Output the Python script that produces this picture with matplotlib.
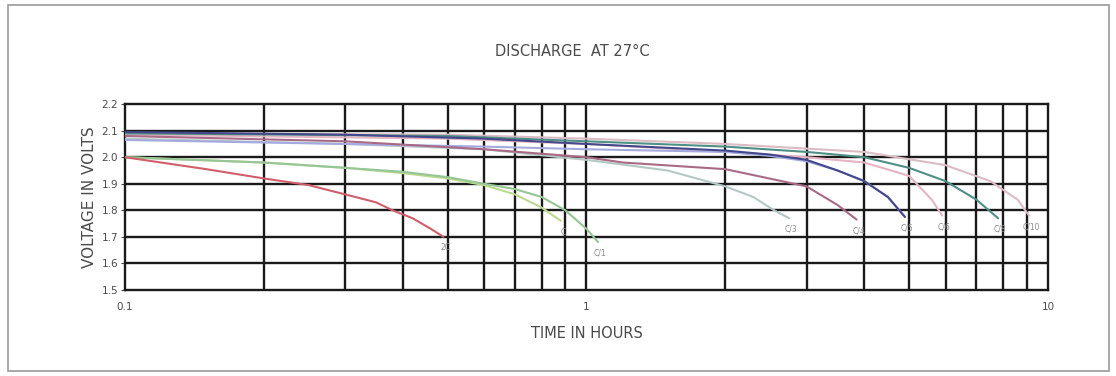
import matplotlib
matplotlib.use('Agg')
import matplotlib.pyplot as plt
from matplotlib.patches import Rectangle
from matplotlib.ticker import FixedLocator, NullLocator

# ─── Data (time in hours, voltage per cell) ──────────────────────────────────
T_RED = [0.1, 0.15, 0.2, 0.25, 0.3, 0.35, 0.38, 0.42, 0.46, 0.49]
V_RED = [2.0, 1.955, 1.92, 1.895, 1.86, 1.83, 1.80, 1.77, 1.73, 1.70]

T_YGRN = [0.1, 0.2, 0.3, 0.4, 0.5, 0.6, 0.7, 0.8, 0.88]
V_YGRN = [2.0, 1.98, 1.96, 1.94, 1.92, 1.895, 1.86, 1.81, 1.76]

T_GRN = [0.1, 0.2, 0.3, 0.4, 0.5, 0.6, 0.7, 0.8, 0.9, 1.0, 1.06]
V_GRN = [2.0, 1.98, 1.96, 1.945, 1.925, 1.90, 1.88, 1.85, 1.80, 1.73, 1.68]

T_GRAY = [0.1, 0.3, 0.6, 1.0, 1.5, 2.0, 2.3, 2.55, 2.75]
V_GRAY = [2.07, 2.05, 2.03, 1.99, 1.95, 1.89, 1.85, 1.80, 1.77]

T_LAV = [0.1, 0.3, 0.6, 1.0, 2.0, 2.5, 3.0, 3.5, 4.0, 4.5, 4.9]
V_LAV = [2.065, 2.05, 2.04, 2.03, 2.02, 2.005, 1.985, 1.95, 1.91, 1.85, 1.775]

T_MAUVE = [0.1, 0.3, 0.6, 1.0, 1.2, 2.0, 3.0, 3.5, 3.85]
V_MAUVE = [2.08, 2.06, 2.03, 2.0, 1.98, 1.955, 1.89, 1.82, 1.765]

T_NAVY = [0.1, 0.3, 0.6, 1.0, 2.0, 2.5, 3.0, 3.5, 4.0, 4.5, 4.9]
V_NAVY = [2.095, 2.085, 2.07, 2.05, 2.025, 2.01, 1.99, 1.95, 1.91, 1.85, 1.775]

T_PINK = [0.1, 0.5, 1.0, 2.0, 3.0, 4.0, 5.0, 5.6, 5.9]
V_PINK = [2.085, 2.07, 2.05, 2.02, 2.0, 1.98, 1.93, 1.84, 1.78]

T_TEAL = [0.1, 0.5, 1.0, 2.0, 3.0, 4.0, 5.0, 6.0, 7.0, 7.8]
V_TEAL = [2.09, 2.08, 2.06, 2.04, 2.02, 2.0, 1.96, 1.91, 1.84, 1.77]

T_PGRAY = [0.1, 0.5, 1.0, 2.0, 4.0, 6.0, 7.5, 8.6, 9.1]
V_PGRAY = [2.09, 2.085, 2.07, 2.05, 2.02, 1.97, 1.91, 1.84, 1.78]

CURVES = [
    (T_YGRN, V_YGRN, "#bcd98f", "C"),
    (T_GRN, V_GRN, "#96c596", "C/1"),
    (T_RED, V_RED, "#cf5f6a", "2C"),
    (T_GRAY, V_GRAY, "#b4c8c6", "C/3"),
    (T_PGRAY, V_PGRAY, "#dcbcc4", "C/10"),
    (T_PINK, V_PINK, "#e4b4c4", "C/6"),
    (T_LAV, V_LAV, "#a4aae0", None),
    (T_TEAL, V_TEAL, "#4f8f86", "C/8"),
    (T_MAUVE, V_MAUVE, "#a86a86", "C/4"),
    (T_NAVY, V_NAVY, "#44488a", "C/5"),
]

Y_TICKS = [1.5, 1.6, 1.7, 1.8, 1.9, 2.0, 2.1, 2.2]
X_LABELED = [0.1, 1, 10]
X_GRID = [0.2, 0.3, 0.4, 0.5, 0.6, 0.7, 0.8, 0.9, 1, 2, 3, 4, 5, 6, 7, 8, 9]

TXT = '#4a4a4a'

# ─── Figure ──────────────────────────────────────────────────────────────────
fig = plt.figure(figsize=(11.16, 3.76), dpi=100)
ax = fig.add_axes([0.112, 0.229, 0.827, 0.494])

ax.set_xscale('log')
ax.set_xlim(0.1, 10)
ax.set_ylim(1.5, 2.2)

for x in X_GRID:
    ax.axvline(x, color='#1a1a1a', lw=1.7, zorder=1)
for y in Y_TICKS[1:-1]:
    ax.axhline(y, color='#1a1a1a', lw=1.7, zorder=1)

for t, v, c, lab in CURVES:
    ax.plot(t, v, color=c, lw=1.5, zorder=3, solid_capstyle='round')
    if lab:
        ax.text(t[-1] * 1.01, v[-1] - 0.025, lab, fontsize=5.5, color='#8a8a8a',
                ha='center', va='top', zorder=4)

ax.xaxis.set_major_locator(FixedLocator(X_LABELED))
ax.xaxis.set_minor_locator(NullLocator())
ax.set_xticklabels(['0.1', '1', '10'])
ax.set_yticks(Y_TICKS)
ax.set_yticklabels([f"{y:.1f}" for y in Y_TICKS])
ax.tick_params(axis='both', labelsize=7.5, colors=TXT, length=3,
               width=0.8, pad=2)
ax.tick_params(axis='x', length=0, pad=9)

for s in ax.spines.values():
    s.set_color('#1a1a1a')
    s.set_linewidth(1.7)

ax.set_xlabel("TIME IN HOURS", fontsize=10.5, color=TXT, labelpad=10)
ax.set_ylabel("VOLTAGE IN VOLTS", fontsize=11, color=TXT, labelpad=3)
fig.text(0.513, 0.862, "DISCHARGE  AT 27°C", fontsize=10.5, color=TXT,
         ha='center', va='center')

# outer frame
fig.patches.append(Rectangle((0.007, 0.012), 0.987, 0.975, transform=fig.transFigure,
                             fill=False, ec='#9a9a9a', lw=1.2))

fig.savefig("out.png", dpi=100, facecolor='white')
